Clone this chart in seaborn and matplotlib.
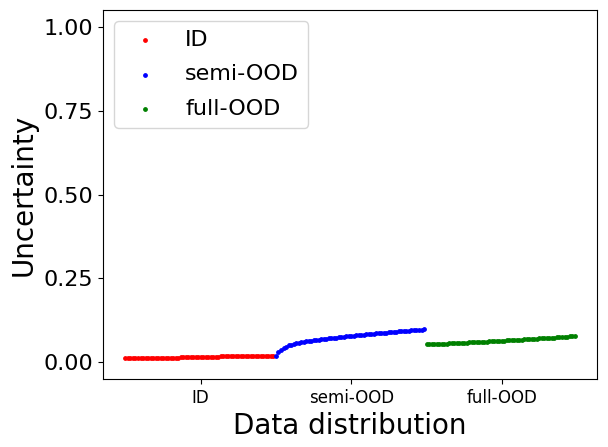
import matplotlib
matplotlib.use("Agg")
import matplotlib.pyplot as plt
import pandas as pd
import seaborn as sns
import numpy as np

# sorted uncertainty values per group
groups = ["ID", "semi-OOD", "full-OOD"]
colors = {"ID": "red", "semi-OOD": "blue", "full-OOD": "green"}

id_unc = [
    0.0130, 0.0131, 0.0131, 0.0132, 0.0132, 0.0132, 0.0133, 0.0133, 0.0133, 0.0134,
    0.0134, 0.0134, 0.0135, 0.0135, 0.0135, 0.0136, 0.0136, 0.0136, 0.0137, 0.0137,
    0.0138, 0.0139,
    0.0165, 0.0166, 0.0166, 0.0167, 0.0167, 0.0167, 0.0168, 0.0168, 0.0168, 0.0169,
    0.0169, 0.0169, 0.0170, 0.0170, 0.0170, 0.0170, 0.0171, 0.0171, 0.0171, 0.0172,
    0.0172, 0.0172, 0.0173, 0.0173, 0.0173, 0.0174, 0.0174, 0.0174, 0.0175, 0.0175,
    0.0175, 0.0176, 0.0176, 0.0176, 0.0177, 0.0177, 0.0178, 0.0179,
]
semi_unc = [
    0.020, 0.031, 0.037, 0.042, 0.046, 0.050, 0.052, 0.054, 0.056, 0.058,
    0.059, 0.060, 0.062, 0.063, 0.064, 0.065, 0.066, 0.067, 0.068, 0.069,
    0.070, 0.071, 0.072, 0.0725, 0.0735, 0.074, 0.075, 0.076, 0.077, 0.0775,
    0.0785, 0.079, 0.080, 0.081, 0.0815, 0.0825, 0.083, 0.084, 0.0845, 0.0855,
    0.086, 0.0865, 0.087, 0.088, 0.0885, 0.089, 0.090, 0.0905, 0.091, 0.092,
    0.0925, 0.093, 0.0935, 0.094, 0.095, 0.0955, 0.096, 0.0965, 0.097, 0.0985,
]
full_unc = [
    0.0530, 0.0533, 0.0536, 0.0540, 0.0543, 0.0547, 0.0550, 0.0554, 0.0557, 0.0561,
    0.0564, 0.0568, 0.0571, 0.0575, 0.0579, 0.0582, 0.0586, 0.0590, 0.0594, 0.0597,
    0.0601, 0.0605, 0.0609, 0.0613, 0.0617, 0.0621, 0.0625, 0.0629, 0.0633, 0.0638,
    0.0642, 0.0646, 0.0650, 0.0655, 0.0659, 0.0663, 0.0668, 0.0672, 0.0677, 0.0681,
    0.0686, 0.0690, 0.0695, 0.0699, 0.0704, 0.0709, 0.0713, 0.0718, 0.0723, 0.0728,
    0.0733, 0.0737, 0.0742, 0.0747, 0.0752, 0.0757, 0.0762, 0.0767, 0.0773, 0.0780,
]

values = {"ID": id_unc, "semi-OOD": semi_unc, "full-OOD": full_unc}

rows = []
offset = 0
centers = []
for g in groups:
    v = values[g]
    for i, u in enumerate(v):
        rows.append({"idx": offset + i, "unc": u, "group": g})
    centers.append(offset + len(v) / 2)
    offset += len(v)
df = pd.DataFrame(rows)

fig = plt.figure(figsize=(6.08, 4.47), dpi=100)
ax = fig.add_axes([103 / 608, 1 - 379 / 447, 494 / 608, 369 / 447])

for g in groups:
    sub = df[df["group"] == g]
    sns.scatterplot(data=sub, x="idx", y="unc", color=colors[g], s=6,
                    linewidth=1.0, edgecolor=colors[g], label=g, ax=ax,
                    legend=False)

ax.set_ylim(-0.05, 1.05)
ax.set_yticks([0, 0.25, 0.5, 0.75, 1.0])
ax.set_xticks(centers)
ax.set_xticklabels(groups, fontsize=12)
ax.tick_params(axis="y", labelsize=16)
ax.set_xlabel("Data distribution", fontsize=20)
ax.set_ylabel("Uncertainty", fontsize=20)
ax.legend(loc="upper left", fontsize=16, labelspacing=0.65)

fig.savefig("out.png", dpi=100)
